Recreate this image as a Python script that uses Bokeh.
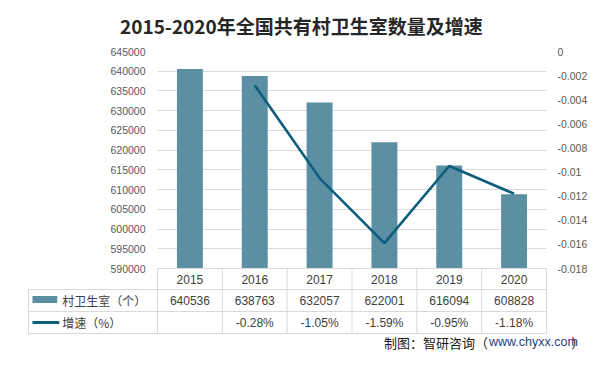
from bokeh.plotting import figure
from bokeh.models import Range1d, LinearAxis, FixedTicker, NumeralTickFormatter
from bokeh.embed import file_html
from bokeh.resources import INLINE
from bokeh.core.properties import value

# ---------------- data ----------------
years = ["2015", "2016", "2017", "2018", "2019", "2020"]
counts = [640536, 638763, 632057, 622001, 616094, 608828]
growth_years = ["2016", "2017", "2018", "2019", "2020"]
growth = [-0.0028, -0.0105, -0.0159, -0.0095, -0.0118]
left_ticks = [590000, 595000, 600000, 605000, 610000, 615000, 620000,
              625000, 630000, 635000, 640000, 645000]
right_ticks = [0, -0.002, -0.004, -0.006, -0.008, -0.01, -0.012,
               -0.014, -0.016, -0.018]
title_text = "2015-2020年全国共有村卫生室数量及增速"
series_names = ["村卫生室（个）", "增速（%）"]
source_cn = "制图：智研咨询（"
source_url = "www.chyxx.com"
source_end = "）"

# ---------------- layout helpers (canvas px -> data) ----------------
W, H = 590, 351
DY = 3                      # small upward shift so the footer fits
FL, FR = 157, 549           # frame left/right (px)
TOP, BASE, BOT = 54 - DY, 271 - DY, 336 - DY
Y0, Y1 = left_ticks[0], left_ticks[-1]
R0, R1 = right_ticks[-1], right_ticks[0]
ppu = (BASE - TOP) / (Y1 - Y0)
ncat = len(years)


def yv(py):
    return Y1 - (py - DY - TOP) / ppu


def xv(px):
    return -0.5 + (px - FL) * ncat / (FR - FL)


idx = list(range(ncat))
gidx = [years.index(y) for y in growth_years]

BAR = "#5B8FA3"
LINE = "#0E5E7B"
GRID = "#D9D9D9"
TXT = "#404040"
AX = "#595959"

p = figure(width=W, height=H, output_backend="svg", toolbar_location=None,
           x_range=Range1d(-0.5, ncat - 0.5), y_range=Range1d(yv(BOT + DY), Y1),
           x_axis_location=None, min_border_left=FL, min_border_right=W - FR,
           min_border_top=TOP, min_border_bottom=H - BOT)
p.outline_line_color = None
p.background_fill_color = "white"
p.border_fill_color = "white"
p.extra_y_ranges = {"rate": Range1d(R1 - (BOT - TOP) / (BASE - TOP) * (R1 - R0), R1)}

# grid
p.xgrid.visible = False
p.ygrid.ticker = FixedTicker(ticks=left_ticks)
p.ygrid.grid_line_color = GRID

# left axis
ya = p.yaxis[0]
ya.ticker = FixedTicker(ticks=left_ticks)
ya.formatter = NumeralTickFormatter(format="0")
ya.axis_line_color = None
ya.major_tick_line_color = None
ya.minor_tick_line_color = None
ya.major_tick_out = 0
ya.major_tick_in = 0
ya.minor_tick_out = 0
ya.major_label_standoff = 12
ya.major_label_text_font = "Liberation Sans"
ya.major_label_text_font_size = "10.5px"
ya.major_label_text_color = AX

# right axis
ra = LinearAxis(y_range_name="rate", ticker=FixedTicker(ticks=right_ticks),
                formatter=NumeralTickFormatter(format="0.[000]"))
ra.axis_line_color = None
ra.major_tick_line_color = None
ra.minor_tick_line_color = None
ra.major_tick_out = 0
ra.major_tick_in = 0
ra.minor_tick_out = 0
ra.major_label_standoff = 11
ra.major_label_text_font = "Liberation Sans"
ra.major_label_text_font_size = "10.5px"
ra.major_label_text_color = AX
p.add_layout(ra, "right")

# bars and line
p.vbar(x=idx, top=counts, bottom=Y0, width=0.4, fill_color=BAR, line_color=None)
p.line(x=gidx, y=growth, y_range_name="rate", line_color=LINE, line_width=2.6)

# ---------------- data table (positions in reference px) ----------------
bounds = [k - 0.5 for k in range(ncat + 1)]
x0s, y0s, x1s, y1s = [], [], [], []
x0s += [xv(FL), xv(27), xv(27), xv(27)]
x1s += [xv(FR)] * 4
y0s += [yv(271), yv(292), yv(314), yv(336)]
y1s += [yv(271), yv(292), yv(314), yv(336)]
x0s.append(xv(27)); x1s.append(xv(27)); y0s.append(yv(292)); y1s.append(yv(336))
for b in bounds:
    x0s.append(b); x1s.append(b); y0s.append(yv(271)); y1s.append(yv(336))
p.segment(x0=x0s, y0=y0s, x1=x1s, y1=y1s, line_color=GRID, line_width=1, level="overlay")

num_font = value("Liberation Sans")
cjk_font = value("Noto Sans CJK SC")
p.text(x=idx, y=[yv(281.5)] * ncat, text=years, text_align="center", text_baseline="middle",
       text_font=num_font, text_font_size="12px", text_color=TXT, level="overlay")
p.text(x=idx, y=[yv(303)] * ncat, text=[str(c) for c in counts], text_align="center",
       text_baseline="middle", text_font=num_font, text_font_size="12px", text_color=TXT,
       level="overlay")
p.text(x=gidx, y=[yv(325)] * len(gidx), text=[f"{g * 100:.2f}%" for g in growth],
       text_align="center", text_baseline="middle", text_font=num_font,
       text_font_size="12px", text_color=TXT, level="overlay")

# legend keys in the table
p.quad(left=[xv(31)], right=[xv(56)], bottom=[yv(305.5)], top=[yv(298.5)],
       fill_color=BAR, line_color=None, level="overlay")
p.segment(x0=[xv(31)], y0=[yv(325)], x1=[xv(58)], y1=[yv(325)], line_color=LINE,
          line_width=3, level="overlay")
p.text(x=[xv(61), xv(61)], y=[yv(303), yv(325)], text=series_names, text_align="left",
       text_baseline="middle", text_font=cjk_font, text_font_size="12px",
       text_color=TXT, level="overlay")

# title
p.text(x=[xv(302)], y=[yv(28)], text=[title_text], text_align="center",
       text_baseline="middle", text_font=cjk_font, text_font_style="bold",
       text_font_size="19px", text_color="#262626", level="overlay")

# footer
FY = yv(341.5 + DY)
p.text(x=[xv(490)], y=[FY], text=[source_cn], text_align="right",
       text_baseline="middle", text_font=cjk_font, text_font_size="13px",
       text_color="#1a1a1a", level="overlay")
p.text(x=[xv(491)], y=[FY], text=[source_url], text_align="left",
       text_baseline="middle", text_font=num_font, text_font_size="12.5px",
       text_color="#1F3F7A", level="overlay")
p.text(x=[xv(574)], y=[FY], text=[source_end], text_align="left",
       text_baseline="middle", text_font=cjk_font, text_font_size="13px",
       text_color="#1a1a1a", level="overlay")

open("out.html", "w").write(file_html(p, INLINE))
